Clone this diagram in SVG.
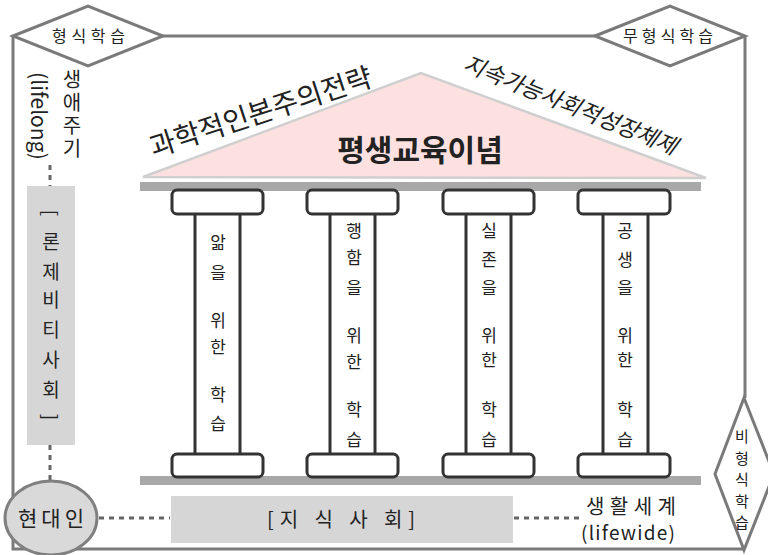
<svg xmlns="http://www.w3.org/2000/svg" width="768" height="555" viewBox="0 0 768 555">
<style>
.t{font-family:"Noto Sans CJK KR","Liberation Sans",sans-serif;fill:#222;}
.frame{fill:none;stroke:#7a7a7a;stroke-width:3;}
.dia{fill:#fff;stroke:#7a7a7a;stroke-width:3;stroke-linejoin:miter;}
.cap{fill:#fff;stroke:#333;stroke-width:3;}
.shaft{fill:#fff;stroke:#333;stroke-width:3;}
.dot{fill:none;stroke:#666;stroke-width:3;stroke-dasharray:5 5;}
.gray{fill:#d6d6d6;}
.bar{fill:#a8a8a8;}
.pt{font-size:17px;text-anchor:middle;}
.dt{font-size:16px;}
.vt{writing-mode:vertical-rl;text-orientation:upright;}
</style>
<rect width="768" height="555" fill="#fff"/>
<g id="frame">
<path class="frame" d="M163,36 H595 M13,36 V549 H743 M745,36 V398"/>
</g>
<g id="formal">
<polygon class="dia" points="13,36 88,6 163,36 88,66"/>
<text class="t dt" x="52" y="42" textLength="73" lengthAdjust="spacing">형식학습</text>
</g>
<g id="informal">
<polygon class="dia" points="595,36 670,6 745,36 670,66"/>
<text class="t dt" x="623" y="42" textLength="90" lengthAdjust="spacing">무형식학습</text>
</g>
<g id="nonformal">
<polygon class="dia" points="744,398 774,474 744,550 715,474"/>
<g class="t" font-size="15" text-anchor="middle">
<text x="742" y="442">비</text><text x="742" y="464">형</text><text x="742" y="485">식</text><text x="742" y="507">학</text><text x="742" y="528">습</text>
</g>
</g>
<g id="roof">
<polygon points="143,177 421,73 706,178" fill="#fde1e1" stroke="#cfcfcf" stroke-width="2.5" stroke-linejoin="miter"/>
<text class="t" x="420" y="161" font-size="30" font-weight="bold" text-anchor="middle" fill="#111">평생교육이념</text>
<text class="t" transform="translate(260,110) rotate(-18)" font-size="28" text-anchor="middle" dominant-baseline="central" fill="#111">과학적인본주의전략</text>
<text class="t" transform="translate(571,103) rotate(22)" font-size="22.5" font-style="italic" text-anchor="middle" dominant-baseline="central" fill="#111">지속가능사회적성장체제</text>
</g>
<g id="beams">
<rect class="bar" x="140" y="182" width="561" height="9"/>
<rect class="bar" x="140" y="476" width="561" height="9"/>
</g>
<g id="pillar1">
<rect class="shaft" x="195" y="212" width="45" height="243"/>
<rect class="cap" x="172" y="190" width="91" height="24" rx="5"/>
<rect class="cap" x="172" y="454" width="91" height="23" rx="5"/>
<g class="t pt"><text x="218" y="249">앎</text><text x="218" y="279">을</text><text x="218" y="327">위</text><text x="218" y="353">한</text><text x="218" y="401">학</text><text x="218" y="430">습</text></g>
</g>
<g id="pillar2">
<rect class="shaft" x="330" y="212" width="45" height="243"/>
<rect class="cap" x="307" y="190" width="91" height="24" rx="5"/>
<rect class="cap" x="307" y="454" width="91" height="23" rx="5"/>
<g class="t pt"><text x="354" y="237">행</text><text x="354" y="264">함</text><text x="354" y="294">을</text><text x="354" y="342">위</text><text x="354" y="368">한</text><text x="354" y="416">학</text><text x="354" y="446">습</text></g>
</g>
<g id="pillar3">
<rect class="shaft" x="466" y="212" width="45" height="243"/>
<rect class="cap" x="443" y="190" width="91" height="24" rx="5"/>
<rect class="cap" x="443" y="454" width="91" height="23" rx="5"/>
<g class="t pt"><text x="489" y="237">실</text><text x="489" y="266">존</text><text x="489" y="294">을</text><text x="489" y="342">위</text><text x="489" y="366">한</text><text x="489" y="416">학</text><text x="489" y="446">습</text></g>
</g>
<g id="pillar4">
<rect class="shaft" x="603" y="212" width="45" height="243"/>
<rect class="cap" x="578" y="190" width="92" height="24" rx="5"/>
<rect class="cap" x="578" y="454" width="92" height="23" rx="5"/>
<g class="t pt"><text x="625" y="237">공</text><text x="625" y="266">생</text><text x="625" y="294">을</text><text x="625" y="342">위</text><text x="625" y="366">한</text><text x="625" y="416">학</text><text x="625" y="446">습</text></g>
</g>
<g id="connectors">
<line class="dot" x1="50" y1="165" x2="50" y2="186"/>
<line class="dot" x1="50" y1="445" x2="50" y2="481"/>
<line class="dot" x1="99" y1="518" x2="170" y2="518"/>
<line class="dot" x1="514" y1="518" x2="582" y2="518"/>
</g>
<g id="lifelong">
<text class="t vt" x="72" y="69" font-size="20" letter-spacing="3">생애주기</text>
<text class="t" transform="translate(40,116) rotate(90)" font-size="21" text-anchor="middle" dominant-baseline="central">(lifelong)</text>
</g>
<g id="theory">
<rect class="gray" x="27" y="186" width="48" height="259"/>
<g class="t" font-size="19" text-anchor="middle">
<text transform="translate(51,213) rotate(90)" dominant-baseline="central">[</text>
<text x="51" y="249">론</text><text x="51" y="279">제</text><text x="51" y="307">비</text><text x="51" y="337">티</text><text x="51" y="367">사</text><text x="51" y="397">회</text>
<text transform="translate(51,417) rotate(90)" dominant-baseline="central">]</text>
</g>
</g>
<g id="modern">
<ellipse cx="51" cy="518" rx="46" ry="37" fill="#d9d9d9" stroke="#808080" stroke-width="3"/>
<text class="t" x="18" y="526" font-size="21" textLength="66" lengthAdjust="spacing">현대인</text>
</g>
<g id="knowledge">
<rect class="gray" x="171" y="496" width="342" height="47"/>
<text class="t" x="267" y="527" font-size="20" textLength="148" lengthAdjust="spacing">[지 식 사 회]</text>
</g>
<g id="lifewide">
<text class="t" x="586" y="514" font-size="20" textLength="90" lengthAdjust="spacing">생활세계</text>
<text class="t" x="581" y="540" font-size="19" textLength="94" lengthAdjust="spacing">(lifewide)</text>
</g>
</svg>
